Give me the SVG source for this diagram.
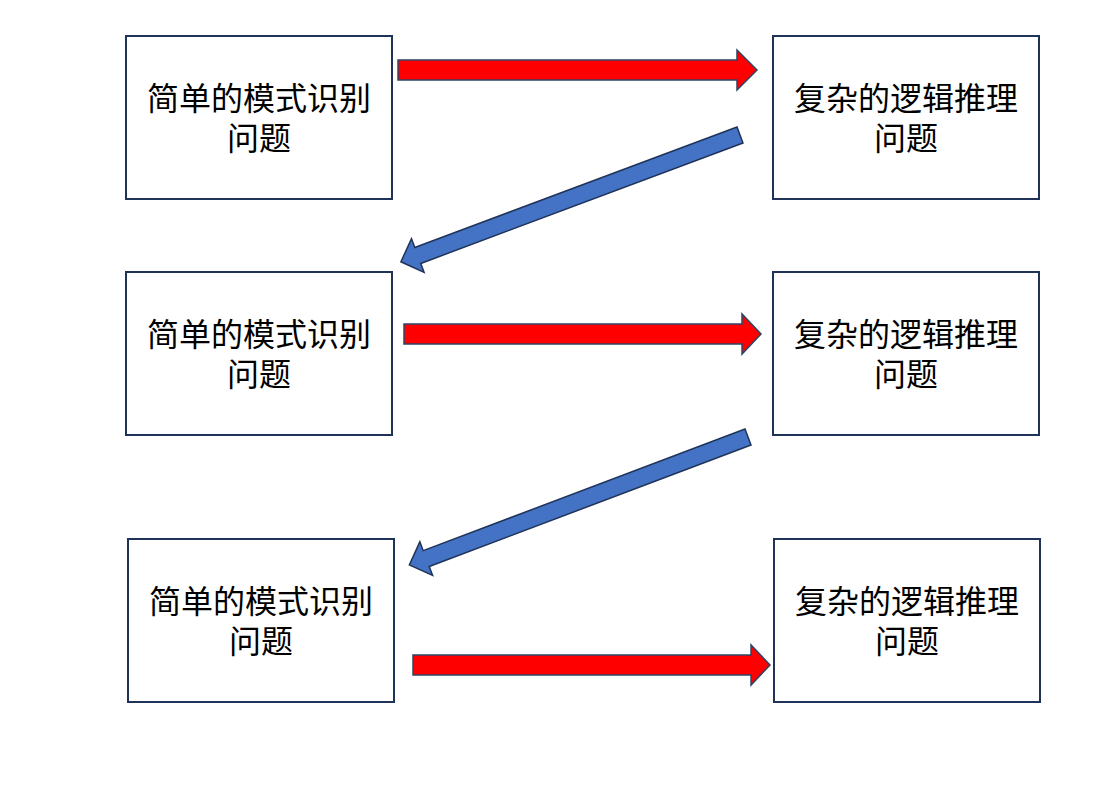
<svg xmlns="http://www.w3.org/2000/svg" width="1116" height="789" viewBox="0 0 1116 789">
<style>
.box{fill:#fff;stroke:#1F3358;stroke-width:2}
.t{font-family:"Noto Sans CJK SC",sans-serif;font-size:32px;fill:#000;text-anchor:middle}
.red{fill:#FF0000;stroke:#2F4464;stroke-width:1.5}
.blue{fill:#4472C4;stroke:#1F3358;stroke-width:1.5}
</style>
<rect width="1116" height="789" fill="#fff"/>
<g id="n1"><rect class="box" x="126" y="36" width="266" height="163"/><text class="t" x="259" y="110">简单的模式识别</text><text class="t" x="259" y="150">问题</text></g>
<g id="n2"><rect class="box" x="773" y="36" width="266" height="163"/><text class="t" x="906" y="110">复杂的逻辑推理</text><text class="t" x="906" y="150">问题</text></g>
<g id="n3"><rect class="box" x="126" y="272" width="266" height="163"/><text class="t" x="259" y="346">简单的模式识别</text><text class="t" x="259" y="386">问题</text></g>
<g id="n4"><rect class="box" x="773" y="272" width="266" height="163"/><text class="t" x="906" y="346">复杂的逻辑推理</text><text class="t" x="906" y="386">问题</text></g>
<g id="n5"><rect class="box" x="128" y="539" width="266" height="163"/><text class="t" x="261" y="613">简单的模式识别</text><text class="t" x="261" y="653">问题</text></g>
<g id="n6"><rect class="box" x="774" y="539" width="266" height="163"/><text class="t" x="907" y="613">复杂的逻辑推理</text><text class="t" x="907" y="653">问题</text></g>
<g id="connectors">
<polygon class="red" points="398,60 737,60 737,50 757,70 737,90 737,80 398,80"/>
<polygon class="blue" transform="translate(740,135) rotate(159.5)" points="0,-8.5 344,-8.5 344,-18 362,0 344,18 344,8.5 0,8.5"/>
<polygon class="red" points="404,324 742,324 742,314 761,334 742,354 742,344 404,344"/>
<polygon class="blue" transform="translate(748,437) rotate(159.3)" points="0,-8.5 344,-8.5 344,-18 362,0 344,18 344,8.5 0,8.5"/>
<polygon class="red" points="413,655 751,655 751,645 770,665 751,685 751,675 413,675"/>
</g>
</svg>
